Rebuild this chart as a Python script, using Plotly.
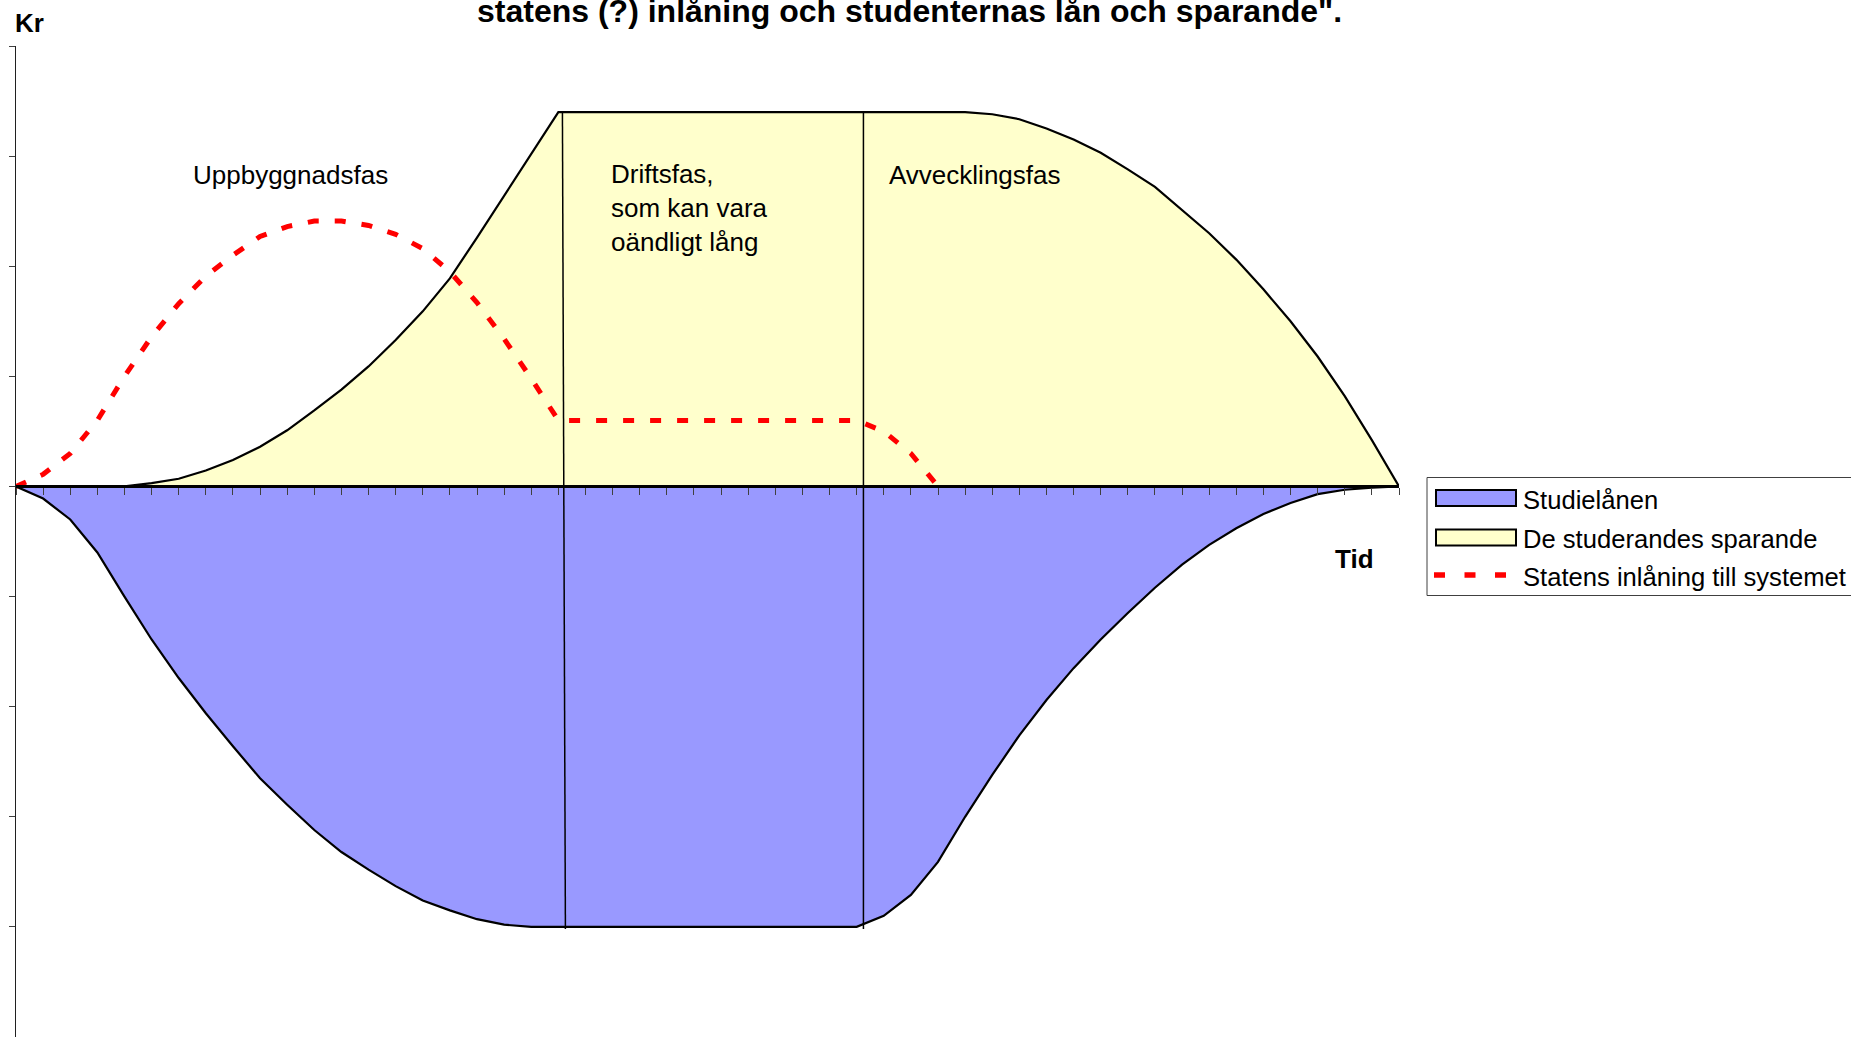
import plotly.graph_objects as go

FONT = "Liberation Sans, Arial, Helvetica, sans-serif"

# time periods on the category axis (no labels in the original)
periods = list(range(52))

# values (Kr, arbitrary units; one y-tick = 1)
studielanen = [0, -0.11, -0.30, -0.60, -1.00, -1.39, -1.74, -2.06, -2.36, -2.65,
               -2.89, -3.12, -3.32, -3.48, -3.63, -3.76, -3.85, -3.93, -3.98, -4.00,
               -4.00, -4.00, -4.00, -4.00, -4.00, -4.00, -4.00, -4.00, -4.00, -4.00,
               -4.00, -4.00, -3.90, -3.71, -3.41, -3.00, -2.62, -2.26, -1.94, -1.65,
               -1.39, -1.15, -0.92, -0.71, -0.53, -0.38, -0.25, -0.15, -0.07, -0.03,
               -0.01, 0]

sparande = [0, 0, 0, 0, 0, 0.03, 0.07, 0.145, 0.24, 0.36,
            0.51, 0.69, 0.88, 1.09, 1.33, 1.59, 1.89, 2.26, 2.64, 3.02,
            3.40, 3.40, 3.40, 3.40, 3.40, 3.40, 3.40, 3.40, 3.40, 3.40,
            3.40, 3.40, 3.40, 3.40, 3.40, 3.40, 3.38, 3.335, 3.25, 3.15,
            3.03, 2.88, 2.72, 2.51, 2.30, 2.06, 1.79, 1.50, 1.18, 0.82,
            0.42, 0]

inlaning = [0, 0.11, 0.30, 0.60, 1.00, 1.36, 1.66, 1.91, 2.10, 2.27,
            2.36, 2.41, 2.41, 2.37, 2.29, 2.16, 1.95, 1.67, 1.34, 0.98,
            0.60, 0.60, 0.60, 0.60, 0.60, 0.60, 0.60, 0.60, 0.60, 0.60,
            0.60, 0.60, 0.50, 0.30, 0.0]

series_names = ["Studielånen", "De studerandes sparande",
                "Statens inlåning till systemet"]
phase_labels = ["Uppbyggnadsfas", "Driftsfas,<br>som kan vara<br>oändligt lång",
                "Avvecklingsfas"]
# phase boundaries drawn by hand in the original (x at top, x at bottom)
phase_lines = [(20.15, 20.26), (31.25, 31.25)]

BLUE, YELLOW, RED = "#9999FF", "#FFFFCC", "#FF0000"

# page / plot area in pixels
W, H = 1851, 1037
L, R, T, B = 16, 1399, 46, 1037


def px(x):
    return (x - L) / (R - L)


def py(y):
    return (B - y) / (B - T)


fig = go.Figure()
fig.add_trace(go.Scatter(x=periods, y=studielanen, name=series_names[0], mode="lines",
                         fill="tozeroy", fillcolor=BLUE,
                         line=dict(color="black", width=2.2), showlegend=False))
fig.add_trace(go.Scatter(x=periods, y=sparande, name=series_names[1], mode="lines",
                         fill="tozeroy", fillcolor=YELLOW,
                         line=dict(color="black", width=2.2), showlegend=False))
fig.add_trace(go.Scatter(x=periods[:len(inlaning)], y=inlaning, name=series_names[2],
                         mode="lines", line=dict(color=RED, width=5, dash="11px,16px"),
                         showlegend=False))

top, bottom = max(sparande), min(studielanen) - 0.02
for x_top, x_bot in phase_lines:
    fig.add_shape(type="line", xref="x", yref="y", x0=x_top, y0=top, x1=x_bot, y1=bottom,
                  line=dict(color="black", width=1.5))

# phase texts
phase_pos = [(191, 175.5), (609, 207.5), (887, 175)]
for text, (xp, yp) in zip(phase_labels, phase_pos):
    fig.add_annotation(x=px(xp), y=py(yp), xref="paper", yref="paper", text=text,
                       showarrow=False, xanchor="left", yanchor="middle", align="left",
                       font=dict(family=FONT, size=26, color="black"))

# axis captions and title (first title line lies above the page)
fig.add_annotation(x=px(29), y=py(23), xref="paper", yref="paper", text="<b>Kr</b>",
                   showarrow=False, xanchor="center", yanchor="middle",
                   font=dict(family=FONT, size=26, color="black"))
fig.add_annotation(x=px(1354), y=py(559), xref="paper", yref="paper", text="<b>Tid</b>",
                   showarrow=False, xanchor="center", yanchor="middle",
                   font=dict(family=FONT, size=26, color="black"))
fig.add_annotation(x=px(910), y=py(10.5), xref="paper", yref="paper",
                   text="<b>statens (?) inlåning och studenternas lån och sparande\".</b>",
                   showarrow=False, xanchor="center", yanchor="middle",
                   font=dict(family=FONT, size=32, color="black"))

# legend box, cut off by the right page edge like the original
fig.add_shape(type="rect", xref="paper", yref="paper", x0=px(1427), x1=px(1920),
              y0=py(595.5), y1=py(477.5), line=dict(color="#404040", width=1),
              fillcolor="white", layer="above")
legend_rows = [498, 537.5, 575]
for color, yp in zip([BLUE, YELLOW], legend_rows[:2]):
    fig.add_shape(type="rect", xref="paper", yref="paper", x0=px(1436), x1=px(1516),
                  y0=py(yp + 8), y1=py(yp - 8), line=dict(color="black", width=2),
                  fillcolor=color, layer="above")
fig.add_shape(type="line", xref="paper", yref="paper", x0=px(1434), x1=px(1508),
              y0=py(legend_rows[2]), y1=py(legend_rows[2]),
              line=dict(color=RED, width=5.5, dash="11px,19.5px"), layer="above")
for name, yp in zip(series_names, legend_rows):
    fig.add_annotation(x=px(1521), y=py(yp + 1.5), xref="paper", yref="paper", text=name,
                       showarrow=False, xanchor="left", yanchor="middle",
                       font=dict(family=FONT, size=25.6, color="black"))

fig.update_xaxes(range=[0, 51], tickvals=periods, showticklabels=False, ticks="outside",
                 ticklen=7, tickwidth=1, tickcolor="#404040", showgrid=False,
                 zeroline=False, showline=True, linecolor="black", linewidth=2.5,
                 anchor="free", position=5 / 9)
fig.update_yaxes(range=[-5, 4], tickvals=list(range(-5, 5)), showticklabels=False,
                 ticks="outside", ticklen=6, tickwidth=1, tickcolor="#404040",
                 showgrid=False, zeroline=False, showline=True, linecolor="#202020",
                 linewidth=1)
fig.update_layout(width=W, height=H, paper_bgcolor="white", plot_bgcolor="white",
                  margin=dict(l=L, r=W - R, t=T, b=H - B, pad=0, autoexpand=False),
                  font=dict(family=FONT, color="black"))

fig.write_html("out.html", config={"displayModeBar": False},
               post_script="document.body.style.margin='0';"
                           "document.body.style.overflow='hidden';")
